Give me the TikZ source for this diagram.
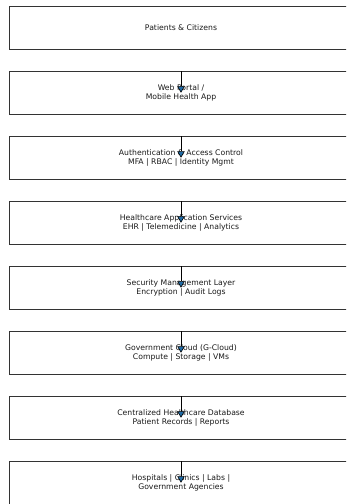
\documentclass[tikz,border=0pt]{standalone}
\usepackage{fontspec}
\setmainfont{DejaVu Sans}
\usetikzlibrary{arrows.meta}
\definecolor{arrowblue}{HTML}{1F6AA5}
\definecolor{boxline}{HTML}{333333}
\tikzset{
  layerbox/.style={draw=boxline, line width=0.8pt, minimum width=343pt, minimum height=42.5pt,
    inner sep=0pt, align=center, text=black!90,
    font=\fontsize{7.7pt}{9.2pt}\selectfont},
  flowarrow/.style={draw=black, line width=0.8pt,
    -{Triangle[length=6.5pt,width=7.5pt,fill=arrowblue,line width=0.6pt]}}
}
\begin{document}
\begin{tikzpicture}[x=1pt,y=1pt]
\useasboundingbox (0,0) rectangle (346,-504);
\clip (0,0) rectangle (346,-504);
\node[layerbox] (b1) at (181,-27.75) {Patients \& Citizens};
\node[layerbox] (b2) at (181,-92.75) {Web Portal /\\Mobile Health App};
\node[layerbox] (b3) at (181,-157.75) {Authentication \& Access Control\\MFA | RBAC | Identity Mgmt};
\node[layerbox] (b4) at (181,-222.75) {Healthcare Application Services\\EHR | Telemedicine | Analytics};
\node[layerbox] (b5) at (181,-287.75) {Security Management Layer\\Encryption | Audit Logs};
\node[layerbox] (b6) at (181,-352.75) {Government Cloud (G-Cloud)\\Compute | Storage | VMs};
\node[layerbox] (b7) at (181,-417.75) {Centralized Healthcare Database\\Patient Records | Reports};
\node[layerbox] (b8) at (181,-482.75) {Hospitals | Clinics | Labs |\\Government Agencies};
\foreach \n in {b2,b3,b4,b5,b6,b7,b8}{
  \draw[flowarrow] (\n.north) -- (\n.center);
}
\end{tikzpicture}
\end{document}
